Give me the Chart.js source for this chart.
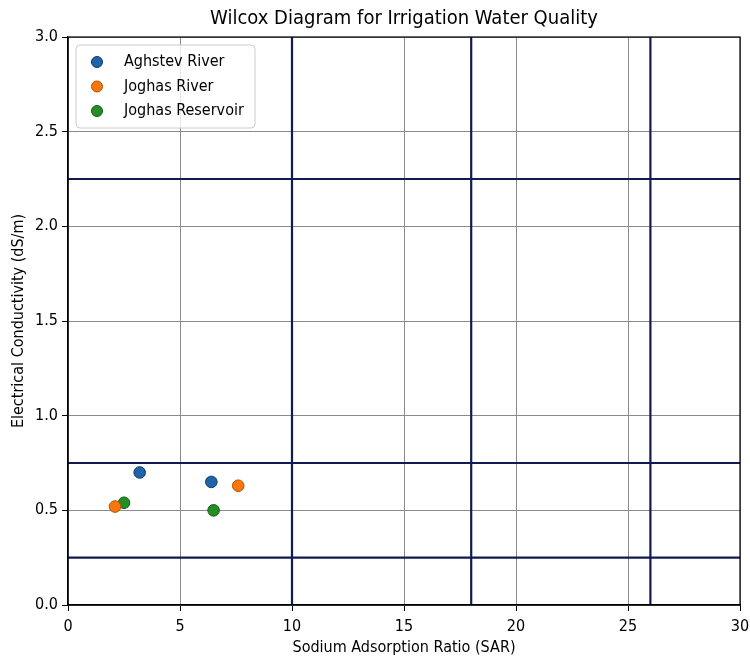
<!DOCTYPE html>
<html>
<head>
<meta charset="utf-8">
<script src="https://cdn.jsdelivr.net/npm/chart.js@4.4.1/dist/chart.umd.min.js"></script>
<style>
  html, body { margin: 0; padding: 0; background: #fff; }
  #wrap { width: 750px; height: 660px; }
</style>
</head>
<body>
<div id="wrap"><canvas id="chart" width="750" height="660"></canvas></div>
<script>
const FONT = '"DejaVu Sans Condensed", "DejaVu Sans", sans-serif';

// sample sites
const seriesNames = ['Aghstev River', 'Joghas River', 'Joghas Reservoir'];
const seriesColors = ['#1f64a8', '#f7760e', '#238e23'];
const seriesEdges = ['#0d3a6a', '#b35200', '#145a16'];
const aghstevSAR = [3.2, 6.4];
const aghstevEC = [0.70, 0.65];
const joghasRiverSAR = [2.1, 7.6];
const joghasRiverEC = [0.52, 0.63];
const joghasResSAR = [2.5, 6.5];
const joghasResEC = [0.54, 0.50];

// class boundaries
const sarLimits = [10, 18, 26];
const ecLimits = [0.25, 0.75, 2.25];

const xTicks = [0, 5, 10, 15, 20, 25, 30];
const yTicks = [0.0, 0.5, 1.0, 1.5, 2.0, 2.5, 3.0];

const toPoints = (xs, ys) => xs.map((x, i) => ({ x: x, y: ys[i] }));
const seriesPoints = [
    toPoints(aghstevSAR, aghstevEC),
    toPoints(joghasRiverSAR, joghasRiverEC),
    toPoints(joghasResSAR, joghasResEC)
];

const datasets = [];
seriesNames.forEach((name, i) => {
    datasets.push({
        label: name,
        data: seriesPoints[i],
        backgroundColor: seriesColors[i],
        borderColor: seriesEdges[i],
        borderWidth: 1,
        pointRadius: 5.8,
        order: 0
    });
});
const LINE_COLOR = '#111a55';
sarLimits.forEach(v => {
    datasets.push({
        label: '_sar' + v,
        data: [{ x: v, y: yTicks[0] }, { x: v, y: yTicks[yTicks.length - 1] }],
        showLine: true, borderColor: LINE_COLOR, borderWidth: 2.2,
        pointRadius: 0, order: 1
    });
});
ecLimits.forEach(v => {
    datasets.push({
        label: '_ec' + v,
        data: [{ x: xTicks[0], y: v }, { x: xTicks[xTicks.length - 1], y: v }],
        showLine: true, borderColor: LINE_COLOR, borderWidth: 2.2,
        pointRadius: 0, order: 1
    });
});

// axes frame + legend box drawn the matplotlib way
const framePlugin = {
    id: 'frame',
    afterDatasetsDraw(chart) {
        const { ctx, chartArea: a } = chart;
        ctx.save();
        ctx.strokeStyle = '#000';
        ctx.lineWidth = 1.2;
        ctx.strokeRect(a.left, a.top, a.right - a.left, a.bottom - a.top);
        ctx.restore();
    }
};

const legendPlugin = {
    id: 'boxLegend',
    afterDraw(chart) {
        const { ctx, chartArea: a } = chart;
        const x0 = a.left + 8, y0 = a.top + 8, w = 179, h = 83, r = 4;
        ctx.save();
        ctx.beginPath();
        ctx.roundRect(x0, y0, w, h, r);
        ctx.fillStyle = 'rgba(255,255,255,0.8)';
        ctx.fill();
        ctx.strokeStyle = '#cccccc';
        ctx.lineWidth = 1;
        ctx.stroke();
        ctx.font = '16px ' + FONT;
        ctx.textBaseline = 'middle';
        seriesNames.forEach((name, i) => {
            const cy = y0 + 17 + i * 24.5;
            ctx.beginPath();
            ctx.arc(x0 + 21, cy, 5.5, 0, Math.PI * 2);
            ctx.fillStyle = seriesColors[i];
            ctx.fill();
            ctx.strokeStyle = seriesEdges[i];
            ctx.stroke();
            ctx.fillStyle = '#000';
            ctx.fillText(name, x0 + 48, cy);
        });
        ctx.restore();
    }
};

new Chart(document.getElementById('chart'), {
    type: 'scatter',
    data: { datasets: datasets },
    options: {
        responsive: false,
        animation: false,
        layout: { padding: { left: 0, right: 10, top: 0, bottom: 0 } },
        plugins: {
            legend: { display: false },
            tooltip: { enabled: false },
            title: {
                display: true,
                fullSize: false,
                text: 'Wilcox Diagram for Irrigation Water Quality',
                color: '#000',
                font: { family: FONT, size: 20, weight: 'normal' },
                padding: { top: 7, bottom: 6 }
            }
        },
        scales: {
            x: {
                type: 'linear',
                min: xTicks[0], max: xTicks[xTicks.length - 1],
                afterFit: s => { s.height = 55; s.paddingLeft = 0; s.paddingRight = 0; },
                afterBuildTicks: s => { s.ticks = xTicks.map(v => ({ value: v })); },
                grid: { color: '#8a8a8a', lineWidth: 1, tickColor: '#000', tickLength: 6 },
                border: { color: '#000', width: 1.2 },
                ticks: { color: '#000', padding: 6, maxRotation: 0, font: { family: FONT, size: 16 } },
                title: {
                    display: true, text: 'Sodium Adsorption Ratio (SAR)', color: '#000',
                    font: { family: FONT, size: 16 }, padding: { top: 4, bottom: 3 }
                }
            },
            y: {
                type: 'linear',
                min: yTicks[0], max: yTicks[yTicks.length - 1],
                afterFit: s => { s.width = 68; },
                afterBuildTicks: s => { s.ticks = yTicks.map(v => ({ value: v })); },
                grid: { color: '#8a8a8a', lineWidth: 1, tickColor: '#000', tickLength: 6 },
                border: { color: '#000', width: 1.2 },
                ticks: {
                    color: '#000', padding: 4, font: { family: FONT, size: 16 },
                    callback: v => Number(v).toFixed(1)
                },
                title: {
                    display: true, text: 'Electrical Conductivity (dS/m)', color: '#000',
                    font: { family: FONT, size: 16 }, padding: { top: 9, bottom: 4 }
                }
            }
        }
    },
    plugins: [framePlugin, legendPlugin]
});
</script>
</body>
</html>
